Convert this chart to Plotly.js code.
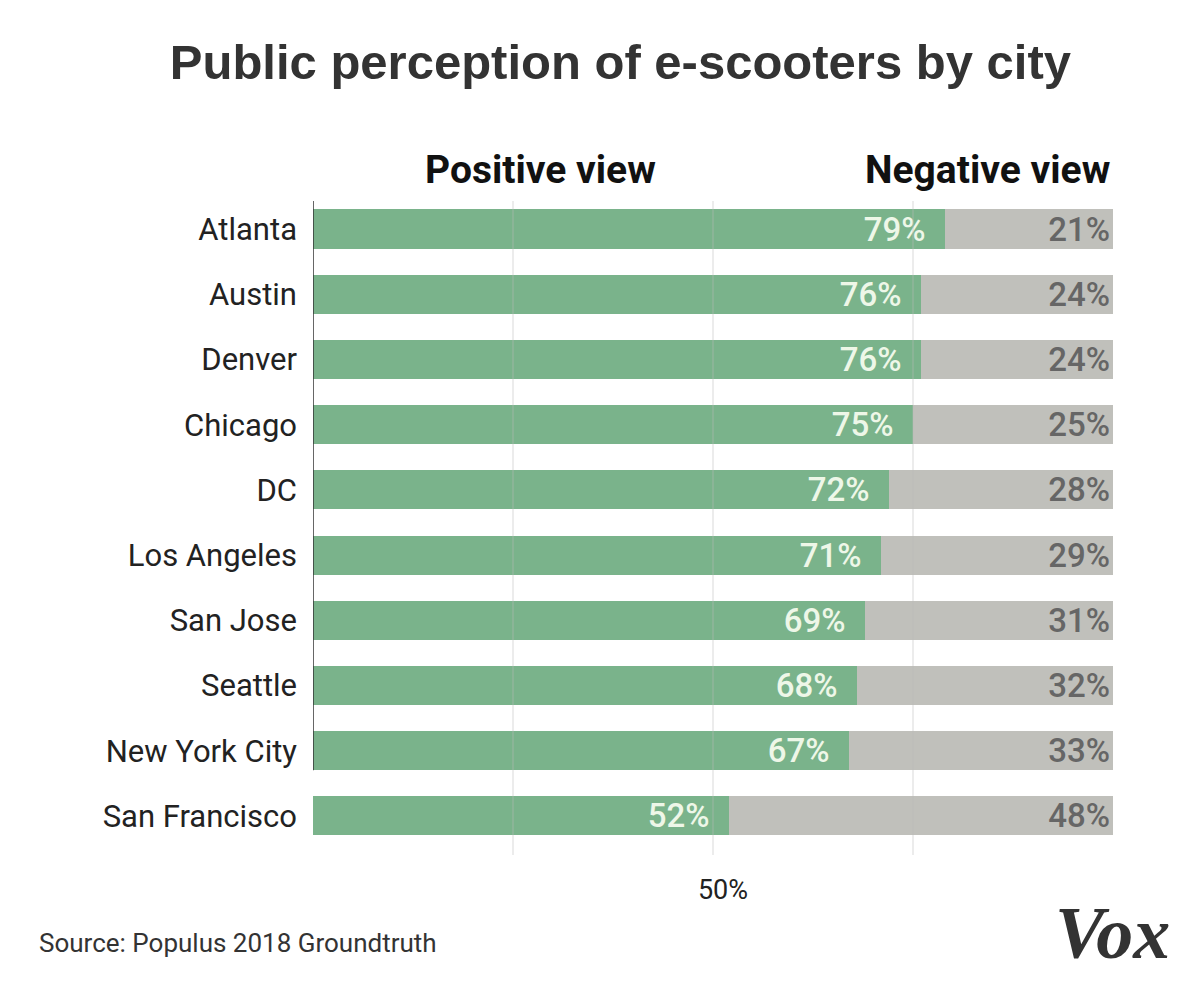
<!DOCTYPE html>
<html>
<head>
<meta charset="utf-8">
<script src="https://cdn.plot.ly/plotly-3.0.1.min.js"></script>
<style>
html,body{margin:0;padding:0;background:#fff;}
#chart{width:1200px;height:986px;}
</style>
</head>
<body>
<div id="chart"></div>
<script>
const cities = ["Atlanta","Austin","Denver","Chicago","DC","Los Angeles","San Jose","Seattle","New York City","San Francisco"];
const positive = [79,76,76,75,72,71,69,68,67,52];
const negative = [21,24,24,25,28,29,31,32,33,48];
const gridVals = [25,50,75];
const gridText = ["","50%",""];

const greenTrace = {
  type:"bar", orientation:"h", y:cities, x:positive,
  marker:{color:"#7ab38b"}, width:0.6,
  text:positive.map(v => v + "%\u00a0\u00a0"), textposition:"inside", insidetextanchor:"end",
  constraintext:"none",
  textfont:{family:"Roboto, sans-serif", size:33, color:"#eef7e8", weight:500},
  hoverinfo:"skip"
};
const grayTrace = {
  type:"bar", orientation:"h", y:cities, x:negative,
  marker:{color:"#c0c0bb"}, width:0.6,
  text:negative.map(v => v + "%"), textposition:"inside", insidetextanchor:"end",
  constraintext:"none",
  textfont:{family:"Roboto, sans-serif", size:33, color:"#666666", weight:500},
  hoverinfo:"skip"
};

const shapes = gridVals.map(v => ({
  type:"line", xref:"x", yref:"paper", x0:v, x1:v, y0:0, y1:1,
  line:{color:"rgba(185,185,185,0.55)", width:1}, layer:"above"
}));
shapes.push({
  type:"line", xref:"x", yref:"y", x0:0, x1:0, y0:-0.43, y1:cities.length-2+0.3,
  line:{color:"#333", width:1.5}, layer:"above"
});

const headFont = {family:"Roboto, sans-serif", size:39, color:"#111", weight:"bold"};

const layout = {
  width:1200, height:986,
  margin:{l:313, r:87, t:201, b:131},
  paper_bgcolor:"#fff", plot_bgcolor:"#fff",
  barmode:"stack", bargap:0.4, showlegend:false, hovermode:false,
  title:{
    text:"Public perception of e-scooters by city",
    font:{family:"Liberation Sans, Arial, sans-serif", size:49, color:"#333", weight:"bold"},
    xref:"container", x:0.517, xanchor:"center",
    yref:"container", y:1-62/986, yanchor:"middle"
  },
  xaxis:{
    range:[0,100], fixedrange:true,
    tickvals:gridVals, ticktext:gridText,
    showgrid:false, zeroline:false, showline:false, ticks:"",
    ticklabelstandoff:16, ticklabelshift:10,
    tickfont:{family:"Roboto, sans-serif", size:27, color:"#222"}
  },
  yaxis:{
    type:"category", range:[9.6,-0.43], fixedrange:true,
    showgrid:false, zeroline:false, showline:false, ticks:"",
    ticklabelstandoff:15,
    tickfont:{family:"Roboto, sans-serif", size:31, color:"#222"}
  },
  shapes:shapes,
  annotations:[
    {text:"Positive view", xref:"paper", yref:"paper", x:(540-313)/800, y:1+(201-170)/654,
     xanchor:"center", yanchor:"middle", showarrow:false, font:headFont},
    {text:"Negative view", xref:"paper", yref:"paper", x:1, y:1+(201-170)/654,
     xanchor:"right", yanchor:"middle", showarrow:false, font:headFont},
    {text:"Source: Populus 2018 Groundtruth", xref:"paper", yref:"paper", x:(37-313)/800, y:(855-943)/654,
     xanchor:"left", yanchor:"middle", showarrow:false,
     font:{family:"Roboto, sans-serif", size:26, color:"#333"}},
    {text:"<b><i>Vox</i></b>", xref:"paper", yref:"paper", x:(1172-313)/800, y:(855-933)/654,
     xanchor:"right", yanchor:"middle", showarrow:false,
     font:{family:"Liberation Serif, DejaVu Serif, serif", size:74, color:"#333"}}
  ]
};

Plotly.newPlot("chart", [greenTrace, grayTrace], layout, {displayModeBar:false, staticPlot:true});
</script>
</body>
</html>
